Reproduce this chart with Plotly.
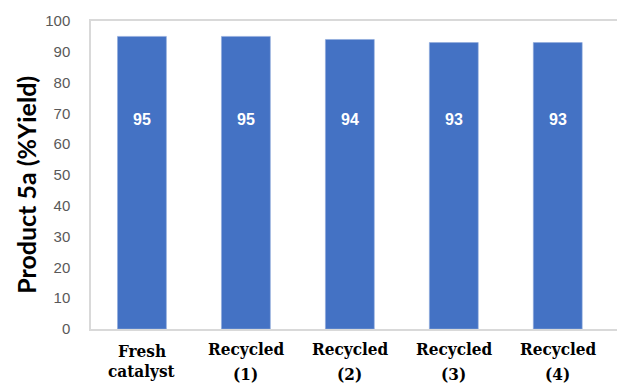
import plotly.graph_objects as go

# Catalyst recycling study: yield of product 5a per run
categories = ["Fresh catalyst", "Recycled (1)", "Recycled (2)", "Recycled (3)", "Recycled (4)"]
label_line1 = ["Fresh", "Recycled", "Recycled", "Recycled", "Recycled"]
label_line2 = ["catalyst", "(1)", "(2)", "(3)", "(4)"]
yield_values = [95, 95, 94, 93, 93]
y_ticks = [0, 10, 20, 30, 40, 50, 60, 70, 80, 90, 100]

label_level = 68  # height at which the value labels sit inside the bars

fig = go.Figure()
fig.add_trace(go.Bar(
    x=categories,
    y=yield_values,
    width=0.47,
    marker=dict(color="#4472C4", line=dict(color="#8FAADC", width=0.6)),
    hoverinfo="skip",
))

for cat, val in zip(categories, yield_values):
    fig.add_annotation(
        x=cat, y=label_level, text=str(val), showarrow=False,
        font=dict(family="Liberation Sans", size=16, color="white", weight="bold"),
    )

# two-line category labels below the axis (the "(n)" line sits lower than "catalyst")
cat_font = dict(family="DejaVu Serif Condensed, DejaVu Serif", size=17, color="black", weight="bold")
for cat, top, bottom in zip(categories, label_line1, label_line2):
    recycled = top == "Recycled"
    fig.add_annotation(x=cat, xref="x", y=0, yref="paper", yanchor="middle",
                       yshift=-20 if recycled else -22, text=top,
                       showarrow=False, font=cat_font)
    fig.add_annotation(x=cat, xref="x", y=0, yref="paper", yanchor="middle",
                       yshift=-45 if recycled else -42, text=bottom,
                       showarrow=False, font=cat_font)

# rotated y-axis title
fig.add_annotation(
    text="Product 5a (%Yield)", textangle=-90, showarrow=False,
    xref="paper", x=0, xanchor="center", xshift=-65,
    yref="paper", y=0.468, yanchor="middle",
    font=dict(family="Lato", size=25, color="black", weight="bold"),
)

fig.update_layout(
    width=617, height=385,
    margin=dict(l=91, r=0, t=21, b=56),
    paper_bgcolor="white", plot_bgcolor="white",
    showlegend=False,
    xaxis=dict(
        range=[-0.49, 4.57],
        showline=True, linecolor="#D9D9D9", linewidth=1.5, mirror=True,
        showgrid=False, ticks="", showticklabels=False,
    ),
    yaxis=dict(
        range=[0, 100], tickvals=y_ticks,
        showline=True, linecolor="#D9D9D9", linewidth=1.5,
        showgrid=False, zeroline=False, ticks="",
        ticklabelstandoff=16,
        tickfont=dict(family="Liberation Sans", size=15, color="#595959"),
    ),
)

fig.write_html("out.html")
